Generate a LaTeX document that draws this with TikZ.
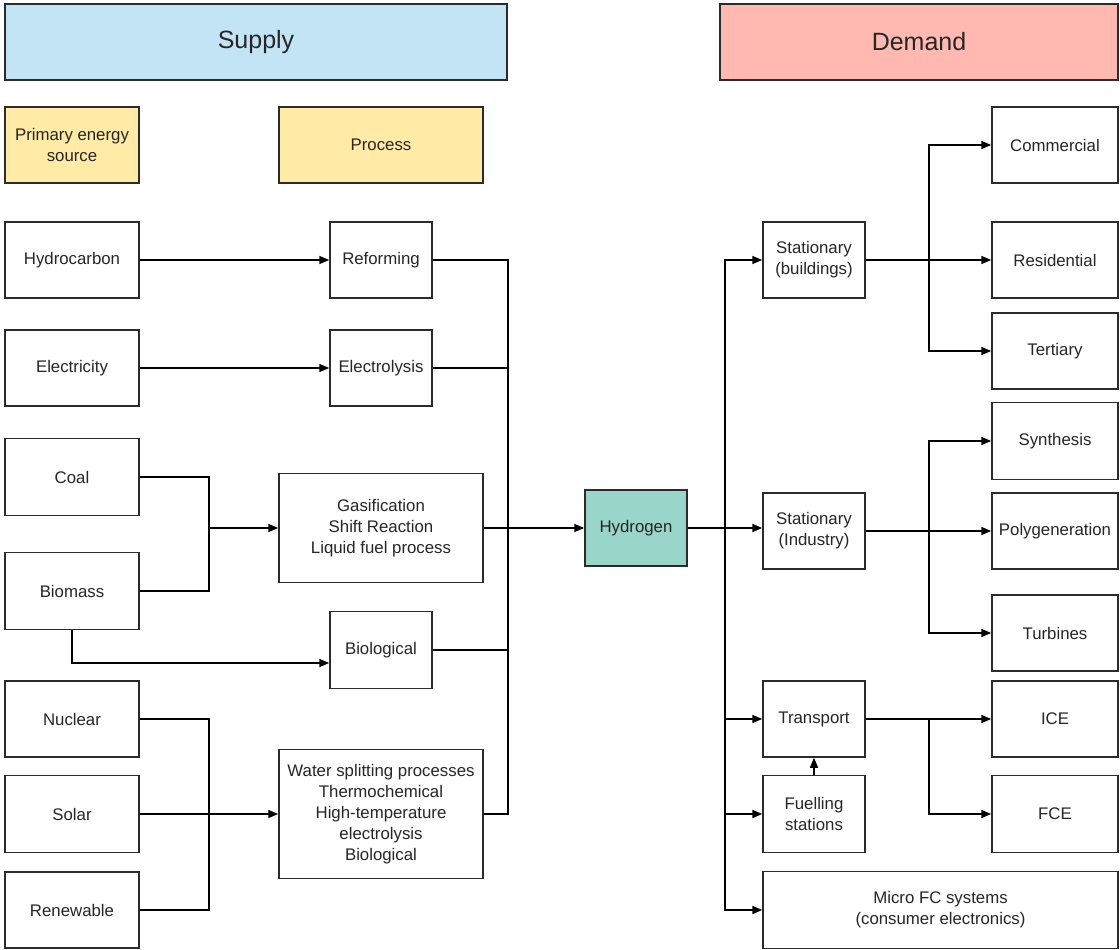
\documentclass[tikz,border=0pt]{standalone}
\usepackage{fontspec}
\setmainfont{Liberation Sans}
\usetikzlibrary{arrows.meta}
\definecolor{supplyc}{HTML}{C3E4F5}
\definecolor{demandc}{HTML}{FFB9B1}
\definecolor{headc}{HTML}{FFEAA6}
\definecolor{hydc}{HTML}{9AD5CA}
\definecolor{linec}{HTML}{2B2B2B}
\begin{document}
\begin{tikzpicture}[x=1pt,y=-1pt,
  box/.style={draw=linec, line width=1.5pt, fill=white, align=center, inner sep=0pt,
    font=\fontsize{16.8}{21}\selectfont, text=black!85},
  big/.style={box, font=\fontsize{25}{30}\selectfont},
  conn/.style={draw=black, line width=1.5pt},
  arr/.style={conn, -{Triangle[length=10pt,width=8pt]}}]
\useasboundingbox (0,0) rectangle (1120,950);
% headers
\node[big, fill=supplyc, minimum width=502pt, minimum height=76pt] (supply) at (256,42) {Supply};
\node[big, fill=demandc, minimum width=398pt, minimum height=76pt] (demand) at (919,42) {Demand};
\node[box, fill=headc, minimum width=134pt, minimum height=76pt] (pes) at (72,145) {Primary energy\\source};
\node[box, fill=headc, minimum width=204pt, minimum height=76pt] (proc) at (381,145) {Process};
% sources
\node[box, minimum width=134pt, minimum height=76pt] (hc) at (72,260) {Hydrocarbon};
\node[box, minimum width=134pt, minimum height=76pt] (elec) at (72,368) {Electricity};
\node[box, minimum width=134pt, minimum height=77pt] (coal) at (72,477) {Coal};
\node[box, minimum width=134pt, minimum height=77pt] (biom) at (72,591) {Biomass};
\node[box, minimum width=134pt, minimum height=76pt] (nuc) at (72,719) {Nuclear};
\node[box, minimum width=134pt, minimum height=77pt] (sol) at (72,814) {Solar};
\node[box, minimum width=134pt, minimum height=76pt] (ren) at (72,910) {Renewable};
% processes
\node[box, minimum width=102pt, minimum height=76pt] (refo) at (381,260) {Reforming};
\node[box, minimum width=102pt, minimum height=76pt] (elys) at (381,368) {Electrolysis};
\node[box, minimum width=204pt, minimum height=109pt] (gas) at (381,528) {Gasification\\Shift Reaction\\Liquid fuel process};
\node[box, minimum width=102pt, minimum height=77pt] (biol) at (381,650) {Biological};
\node[box, minimum width=204pt, minimum height=129pt] (ws) at (381,814) {Water splitting processes\\Thermochemical\\High-temperature\\electrolysis\\Biological};
% hydrogen
\node[box, fill=hydc, minimum width=102pt, minimum height=76pt] (h2) at (636,528) {Hydrogen};
% demand middle
\node[box, minimum width=102pt, minimum height=76pt] (sbld) at (814,260) {Stationary\\(buildings)};
\node[box, minimum width=102pt, minimum height=76pt] (sind) at (814,531) {Stationary\\(Industry)};
\node[box, minimum width=102pt, minimum height=76pt] (trans) at (814,719) {Transport};
\node[box, minimum width=102pt, minimum height=77pt] (fuel) at (814,814) {Fuelling\\stations};
\node[box, minimum width=355pt, minimum height=77pt] (micro) at (940.5,910) {Micro FC systems\\(consumer electronics)};
% demand right
\node[box, minimum width=126pt, minimum height=76pt] (com) at (1055,145) {Commercial};
\node[box, minimum width=126pt, minimum height=76pt] (res) at (1055,260) {Residential};
\node[box, minimum width=126pt, minimum height=76pt] (ter) at (1055,351) {Tertiary};
\node[box, minimum width=126pt, minimum height=77pt] (syn) at (1055,441) {Synthesis};
\node[box, minimum width=126pt, minimum height=76pt] (poly) at (1055,531) {Polygeneration};
\node[box, minimum width=126pt, minimum height=76pt] (turb) at (1055,633) {Turbines};
\node[box, minimum width=126pt, minimum height=76pt] (ice) at (1055,719) {ICE};
\node[box, minimum width=126pt, minimum height=77pt] (fce) at (1055,814) {FCE};
% junction coordinates
\coordinate (jcb) at (209,528);
\coordinate (jns) at (209,814);
\coordinate (bb) at (72,663);
\coordinate (lbus) at (508,528);
\coordinate (hbus) at (725,528);
\coordinate (rb1) at (929,260);
\coordinate (rb2) at (929,531);
\coordinate (rb3) at (929,719);
% supply connectors
\draw[arr] (hc) -- (refo);
\draw[arr] (elec) -- (elys);
\draw[conn] (coal.east) -| (jcb) |- (biom.east);
\draw[arr] (jcb) -- (gas.west);
\draw[arr] (biom.south) -- (bb) -- (bb -| biol.west);
\draw[conn] (nuc.east) -| (jns) |- (ren.east);
\draw[arr] (sol.east) -- (ws.west);
\draw[conn] (refo.east) -| (lbus);
\draw[conn] (elys.east) -| (lbus);
\draw[conn] (biol.east) -| (lbus);
\draw[conn] (ws.east) -| (lbus);
\draw[arr] (gas.east) -- (h2.west);
% demand connectors
\draw[conn] (h2.east) -- (hbus);
\draw[arr] (hbus) |- (sbld.west);
\draw[arr] (hbus) -- (hbus -| sind.west);
\draw[arr] (hbus) |- (trans.west);
\draw[arr] (hbus) |- (fuel.west);
\draw[arr] (hbus) |- (micro.west);
\draw[arr] (fuel.north) -- (trans.south);
\draw[conn] (sbld.east) -- (rb1);
\draw[arr] (rb1) |- (com.west);
\draw[arr] (rb1) -- (res.west);
\draw[arr] (rb1) |- (ter.west);
\draw[conn] (sind.east) -- (rb2);
\draw[arr] (rb2) |- (syn.west);
\draw[arr] (rb2) -- (poly.west);
\draw[arr] (rb2) |- (turb.west);
\draw[arr] (trans.east) -- (ice.west);
\draw[arr] (rb3) |- (fce.west);
\end{tikzpicture}
\end{document}
